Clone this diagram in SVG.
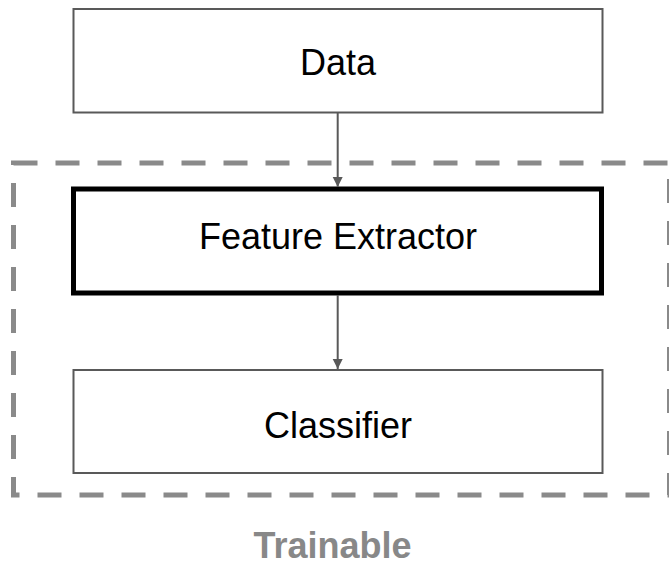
<svg xmlns="http://www.w3.org/2000/svg" width="669" height="566" viewBox="0 0 669 566">
  <defs>
    <marker id="arrow" markerUnits="userSpaceOnUse" markerWidth="10" markerHeight="12" refX="10" refY="5" orient="auto">
      <path d="M0,0 L10,5 L0,10 Z" fill="#595959"/>
    </marker>
    <style>
      .box { fill: #ffffff; stroke: #595959; stroke-width: 2; }
      .bold { fill: #ffffff; stroke: #000000; stroke-width: 5; }
      .label { font-family: "Liberation Sans", Arial, sans-serif; font-size: 36px; fill: #000000; text-anchor: middle; }
      .conn { stroke: #595959; stroke-width: 2; fill: none; }
      .group { fill: none; stroke: #8a8a8a; stroke-width: 5; stroke-dasharray: 24 18; }
      .caption { font-family: "Liberation Sans", Arial, sans-serif; font-size: 36px; font-weight: bold; fill: #888888; text-anchor: middle; }
    </style>
  </defs>
  <rect width="669" height="566" fill="#ffffff"/>
  <g id="trainable-group">
    <rect class="group" x="13.5" y="163" width="656" height="332"/>
    <text class="caption" x="332.5" y="558">Trainable</text>
  </g>
  <g id="data">
    <rect class="box" x="73.5" y="9" width="529" height="103.5"/>
    <text class="label" x="338" y="75">Data</text>
  </g>
  <g id="feature-extractor">
    <rect class="bold" x="73.5" y="189" width="528" height="104"/>
    <text class="label" x="338" y="249">Feature Extractor</text>
  </g>
  <g id="classifier">
    <rect class="box" x="73.5" y="370" width="529" height="103"/>
    <text class="label" x="338" y="438">Classifier</text>
  </g>
  <g id="connectors">
    <line class="conn" x1="337.7" y1="113" x2="337.7" y2="187" marker-end="url(#arrow)"/>
    <line class="conn" x1="337.7" y1="295" x2="337.7" y2="369" marker-end="url(#arrow)"/>
  </g>
</svg>
